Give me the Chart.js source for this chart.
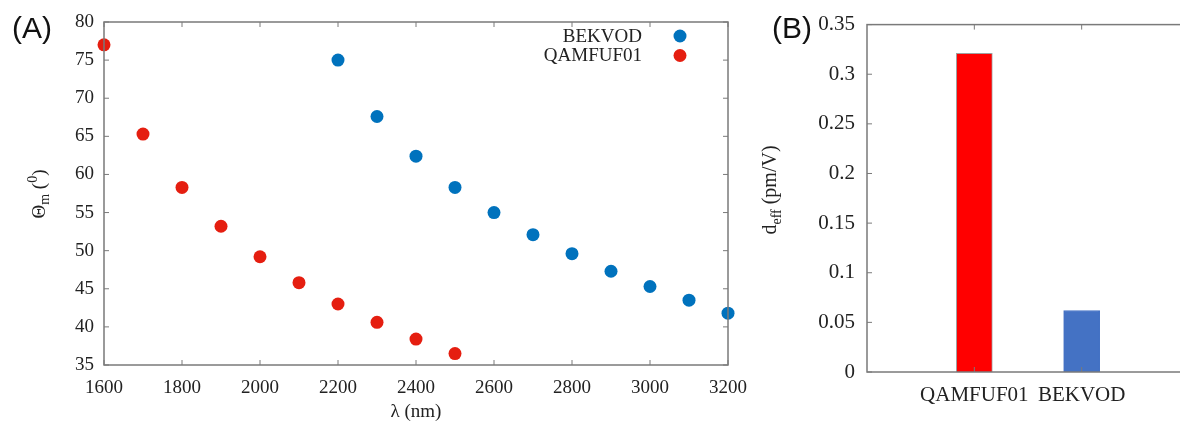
<!DOCTYPE html>
<html>
<head>
<meta charset="utf-8">
<script src="https://cdn.jsdelivr.net/npm/chart.js@4/dist/chart.umd.min.js"></script>
<style>
  html, body { margin: 0; padding: 0; background: #fff; overflow: hidden; width: 1180px; height: 424px; }
  #wrapA { position: absolute; left: 0; top: 0; width: 760px; height: 424px; }
  #wrapB { position: absolute; left: 760px; top: 0; width: 440px; height: 424px; }
  .panel { position: absolute; font-family: "Liberation Sans", Arial, sans-serif; font-size: 30px; color: #111; }
</style>
</head>
<body>
<div id="wrapA"><canvas id="chartA" width="760" height="424"></canvas></div>
<div id="wrapB"><canvas id="chartB" width="440" height="424"></canvas></div>
<div class="panel" style="left:12px; top:11px;">(A)</div>
<div class="panel" style="left:772px; top:11px;">(B)</div>
<script>
// --- data ---
const bekvodWavelength = [2200, 2300, 2400, 2500, 2600, 2700, 2800, 2900, 3000, 3100, 3200];
const bekvodTheta = [75.0, 67.6, 62.4, 58.3, 55.0, 52.1, 49.6, 47.3, 45.3, 43.5, 41.8];
const qamfufWavelength = [1600, 1700, 1800, 1900, 2000, 2100, 2200, 2300, 2400, 2500];
const qamfufTheta = [77.0, 65.3, 58.3, 53.2, 49.2, 45.8, 43.0, 40.6, 38.4, 36.5];

const crystals = ['QAMFUF01', 'BEKVOD'];
const deff = [0.321, 0.062];

const serif = '"Liberation Serif", "Times New Roman", serif';
const frameColor = '#7a7a7a';
const textColor = '#222';

// draws text pieces with sub/superscripts, centred on (x, y), optionally rotated
function drawRich(ctx, parts, x, y, size, rotate) {
    ctx.save();
    ctx.translate(x, y);
    if (rotate) ctx.rotate(-Math.PI / 2);
    ctx.fillStyle = textColor;
    ctx.textBaseline = 'middle';
    ctx.textAlign = 'left';
    let total = 0;
    parts.forEach(p => {
        ctx.font = Math.round(size * (p.scale || 1)) + 'px ' + serif;
        p.w = ctx.measureText(p.text).width;
        total += p.w;
    });
    let cx = -total / 2;
    parts.forEach(p => {
        ctx.font = Math.round(size * (p.scale || 1)) + 'px ' + serif;
        ctx.fillText(p.text, cx, (p.shift || 0) * size);
        cx += p.w;
    });
    ctx.restore();
}

// box frame with inward mirror ticks (gnuplot style)
function drawFrame(chart, opts) {
    const ctx = chart.ctx;
    const a = chart.chartArea;
    const xs = chart.scales.x, ys = chart.scales.y;
    ctx.save();
    ctx.strokeStyle = frameColor;
    ctx.lineWidth = 1.5;
    ctx.strokeRect(a.left, a.top, a.right - a.left, a.bottom - a.top);
    ctx.lineWidth = 1;
    ctx.beginPath();
    xs.ticks.forEach((t, i) => {
        if (opts.skipX && opts.skipX(i)) return;
        const px = xs.getPixelForTick(i);
        ctx.moveTo(px, a.bottom); ctx.lineTo(px, a.bottom - 5);
        ctx.moveTo(px, a.top); ctx.lineTo(px, a.top + 5);
    });
    ys.ticks.forEach((t, i) => {
        const py = ys.getPixelForTick(i);
        ctx.moveTo(a.left, py); ctx.lineTo(a.left + 5, py);
        ctx.moveTo(a.right, py); ctx.lineTo(a.right - 5, py);
    });
    ctx.stroke();
    ctx.restore();
}

const framePluginA = {
    id: 'frameA',
    afterDraw(chart) {
        drawFrame(chart, {});
        const ctx = chart.ctx;
        const a = chart.chartArea;
        // axis titles
        drawRich(ctx, [{ text: 'λ (nm)' }], (a.left + a.right) / 2, 412, 19, false);
        drawRich(ctx, [
            { text: 'Θ' },
            { text: 'm', scale: 0.72, shift: 0.3 },
            { text: ' (' },
            { text: '0', scale: 0.72, shift: -0.35 },
            { text: ')' }
        ], 40, 194, 19, true);
        // legend, text right-aligned with a dot to its right
        ctx.save();
        ctx.font = '19px ' + serif;
        ctx.textAlign = 'right';
        ctx.textBaseline = 'middle';
        chart.data.datasets.forEach((ds, i) => {
            const y = 37 + i * 19.5;
            ctx.fillStyle = textColor;
            ctx.fillText(ds.label, 642, y);
            ctx.fillStyle = ds.backgroundColor;
            ctx.beginPath();
            ctx.arc(680, y - 1, 6.5, 0, Math.PI * 2);
            ctx.fill();
        });
        ctx.restore();
    }
};

const framePluginB = {
    id: 'frameB',
    afterDraw(chart) {
        drawFrame(chart, { skipX: i => chart.data.labels[i] === '' });
        drawRich(chart.ctx, [
            { text: 'd' },
            { text: 'eff', scale: 0.72, shift: 0.3 },
            { text: ' (pm/V)' }
        ], 11, 190, 20, true);
    }
};

new Chart(document.getElementById('chartA'), {
    type: 'scatter',
    data: {
        datasets: [
            {
                label: 'BEKVOD',
                data: bekvodWavelength.map((x, i) => ({ x: x, y: bekvodTheta[i] })),
                backgroundColor: '#0072bd',
                borderWidth: 0,
                pointRadius: 6.5
            },
            {
                label: 'QAMFUF01',
                data: qamfufWavelength.map((x, i) => ({ x: x, y: qamfufTheta[i] })),
                backgroundColor: '#e51e10',
                borderWidth: 0,
                pointRadius: 6.5
            }
        ]
    },
    options: {
        responsive: false,
        animation: false,
        devicePixelRatio: 1,
        clip: false,
        layout: { padding: { top: 22, right: 32, left: 0, bottom: 0 } },
        plugins: { legend: { display: false }, tooltip: { enabled: false } },
        scales: {
            x: {
                type: 'linear', min: 1600, max: 3200,
                ticks: { stepSize: 200, color: textColor, font: { family: serif, size: 19 }, padding: 12, maxRotation: 0,
                         callback: v => String(v) },
                grid: { display: false, drawTicks: false },
                border: { display: false },
                afterFit: s => { s.height = 59; }
            },
            y: {
                min: 35, max: 80,
                ticks: { stepSize: 5, color: textColor, font: { family: serif, size: 19 }, padding: 10 },
                grid: { display: false, drawTicks: false },
                border: { display: false },
                afterFit: s => { s.width = 104; }
            }
        }
    },
    plugins: [framePluginA]
});

new Chart(document.getElementById('chartB'), {
    type: 'bar',
    data: {
        labels: ['', ...crystals, ''],
        datasets: [{
            data: [null, ...deff, null],
            backgroundColor: ['#ff0000', '#ff0000', '#4472c4', '#4472c4'],
            borderColor: ['#a0a0a0', '#a0a0a0', '#4472c4', '#4472c4'],
            borderWidth: 1,
            barThickness: 36
        }]
    },
    options: {
        responsive: false,
        animation: false,
        devicePixelRatio: 1,
        layout: { padding: { top: 21, right: 11, left: 0, bottom: 0 } },
        plugins: { legend: { display: false }, tooltip: { enabled: false } },
        scales: {
            x: {
                offset: false,
                ticks: { color: textColor, font: { family: serif, size: 21 }, padding: 11, autoSkip: false, maxRotation: 0 },
                grid: { display: false, drawTicks: false, offset: false },
                border: { display: false },
                afterFit: s => { s.height = 52; }
            },
            y: {
                min: 0, max: 0.35,
                ticks: { stepSize: 0.05, color: textColor, font: { family: serif, size: 21 }, padding: 12,
                         callback: v => String(Math.round(v * 100) / 100) },
                grid: { display: false, drawTicks: false },
                border: { display: false },
                afterFit: s => { s.width = 107; }
            }
        }
    },
    plugins: [framePluginB]
});
</script>
</body>
</html>
